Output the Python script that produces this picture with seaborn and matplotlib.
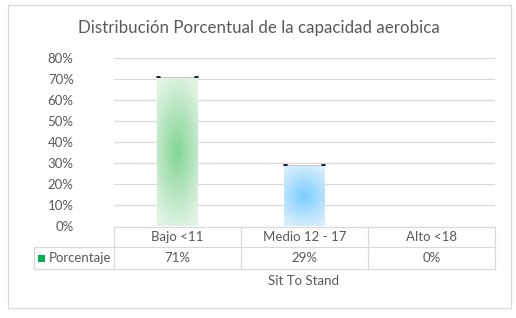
import numpy as np
import pandas as pd
import seaborn as sns
import matplotlib.pyplot as plt
from matplotlib.lines import Line2D
from matplotlib.patches import Rectangle
from matplotlib.colors import LinearSegmentedColormap

# data
categorias = ["Bajo <11", "Medio 12 - 17", "Alto <18"]
porcentaje = [0.71, 0.29, 0.0]
etiquetas = ["71%", "29%", "0%"]
titulo = "Distribución Porcentual de la capacidad aerobica"
serie = "Porcentaje"
eje_x = "Sit To Stand"

W, H = 516, 318
gris = "#595959"
linea = "#d9d9d9"

sns.set_theme(style="white")
plt.rcParams['font.family'] = ['Lato', 'DejaVu Sans']

fig = plt.figure(figsize=(W / 100, H / 100), dpi=100)

def fx(px):
    return px / W

def fy(py):
    return 1 - py / H

ax = fig.add_axes([fx(114), fy(226), fx(495) - fx(114), fy(58) - fy(226)])

df = pd.DataFrame({"cat": categorias, "val": porcentaje})
sns.barplot(data=df, x="cat", y="val", width=0.32, color="white", ax=ax)

ax.set_ylim(0, 0.8)
ax.set_xlim(-0.5, 2.5)
ax.set_yticks(np.arange(0, 0.81, 0.1))
ax.set_yticklabels([f"{int(round(v * 100))}%" for v in np.arange(0, 0.81, 0.1)],
                   color=gris, fontsize=9.5)
ax.tick_params(axis="y", length=0, pad=29)
ax.set_xticks([])
ax.set_xlabel("")
ax.set_ylabel("")
for s in ax.spines.values():
    s.set_visible(False)
ax.grid(axis="y", color=linea, linewidth=0.9)
ax.set_axisbelow(True)

# radial gradient fill for each bar
grad_colors = [("#84d596", "#e0f3e3"), ("#7ccfff", "#d6edfc"), ("#ffffff", "#ffffff")]
yy, xx = np.mgrid[-1:1:200j, -1:1:60j]
dist = np.clip(np.sqrt((xx * 0.7) ** 2 + yy ** 2) / 1.05, 0, 1)
for patch, (c0, c1) in zip(ax.patches, grad_colors):
    h = patch.get_height()
    if h <= 0:
        patch.set_visible(False)
        continue
    x0 = patch.get_x()
    w = patch.get_width()
    cmap = LinearSegmentedColormap.from_list("g", [c0, c1])
    im = ax.imshow(dist, cmap=cmap, extent=[x0, x0 + w, 0, h], aspect="auto",
                   origin="lower", zorder=2, interpolation="bilinear")
    im.set_clip_path(patch)
    patch.set_facecolor("none")
    patch.set_edgecolor("none")
    ax.plot([x0, x0 + w], [h, h], color="#c8c8c8", lw=0.7, zorder=3)
    ax.plot([x0, x0 + 0.02], [h, h], color="black", lw=1.2, zorder=4)
    ax.plot([x0 + w - 0.02, x0 + w], [h, h], color="black", lw=1.2, zorder=4)

ax.set_xlim(-0.5, 2.5)
ax.set_ylim(0, 0.8)

# data table
def hline(y, x0, x1):
    fig.add_artist(Line2D([fx(x0), fx(x1)], [fy(y), fy(y)], color=linea, lw=0.9))

def vline(x, y0, y1):
    fig.add_artist(Line2D([fx(x), fx(x)], [fy(y0), fy(y1)], color=linea, lw=0.9))

hline(226.5, 114, 495)
hline(247, 34, 495)
hline(269, 34, 495)
for x in [114, 241, 368, 495]:
    vline(x, 226.5, 269)
vline(34, 247, 269)

centros = [177.5, 304.5, 431.5]
for c, cat, lab in zip(centros, categorias, etiquetas):
    fig.text(fx(c), fy(237), cat, ha="center", va="center", color=gris, fontsize=9.5)
    fig.text(fx(c), fy(258), lab, ha="center", va="center", color=gris, fontsize=9.5)

fig.add_artist(Rectangle((fx(38), fy(262)), fx(7), fy(255) - fy(262),
                         facecolor="#00b050", edgecolor="none"))
fig.text(fx(49), fy(258), serie, ha="left", va="center", color=gris, fontsize=9.5)
fig.text(fx(304), fy(281), eje_x, ha="center", va="center", color=gris, fontsize=9.5)

fig.text(fx(259), fy(28), titulo, ha="center", va="center", color=gris, fontsize=12.2)

# outer chart border
fig.add_artist(Rectangle((fx(8), fy(308)), fx(511) - fx(8), fy(5) - fy(308),
                         facecolor="none", edgecolor=linea, lw=0.9))

fig.savefig("out.png", dpi=100, facecolor="white")
